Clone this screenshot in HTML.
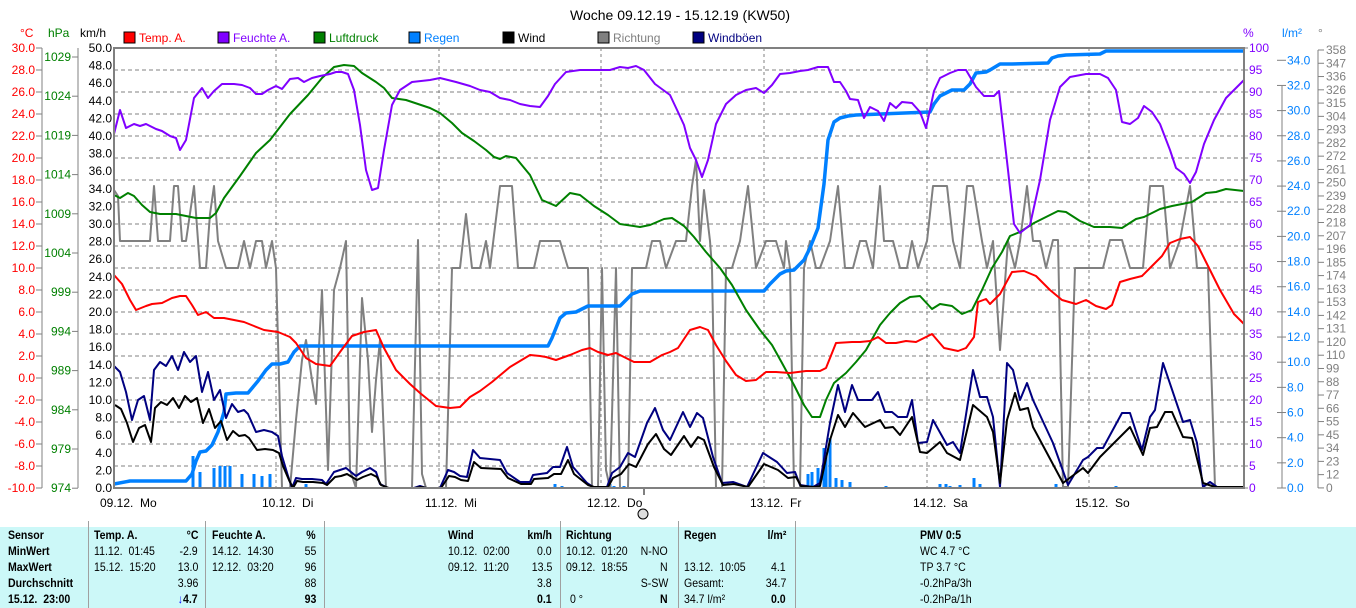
<!DOCTYPE html>
<html><head><meta charset="utf-8">
<style>
body{margin:0;width:1356px;height:608px;overflow:hidden;background:#fff;font-family:"Liberation Sans",sans-serif;}
svg text{font-family:"Liberation Sans",sans-serif;font-size:12px;}
#tbl{position:absolute;left:0;top:527px;width:1356px;height:81px;background:#ccf8f8;}
.t{position:absolute;font-size:12px;font-family:"Liberation Sans",sans-serif;white-space:nowrap;transform:scaleX(0.88);transform-origin:left;}
.r{transform-origin:right;}
.b{font-weight:bold;}
.sep{position:absolute;top:521px;width:1px;height:87px;background:#a0a0a0;}
</style></head><body>
<svg id="s" width="1356" height="608" style="position:absolute;left:0;top:0"></svg>
<div id="tbl"></div>
<div class="sep" style="left:88px"></div><div class="sep" style="left:205px"></div><div class="sep" style="left:324px"></div><div class="sep" style="left:560px"></div><div class="sep" style="left:678px"></div><div class="sep" style="left:795px"></div>
<div id="cells"></div>
<script>
const S=document.getElementById('s');let h='';
const L=114,R=1244,T=48,B=488;
h+=`<text x="680" y="20" text-anchor="middle" style="font-size:14px">Woche 09.12.19 - 15.12.19 (KW50)</text>`;
for(let y=T+22;y<B;y+=22)h+=`<line x1="${L}" y1="${y}" x2="${R}" y2="${y}" stroke="#808080" stroke-dasharray="4,3"/>`;
[276,439,601,764,927,1089].forEach(x=>h+=`<line x1="${x}" y1="${T}" x2="${x}" y2="${B}" stroke="#808080" stroke-dasharray="3,3"/>`);
h+=`<text x="20" y="37" fill="#f00">°C</text><text x="48" y="37" fill="#008000">hPa</text><text x="80" y="37">km/h</text>`;
h+=`<text x="1243" y="37" fill="#8000ff">%</text><text x="1282" y="37" fill="#0080ff">l/m²</text><text x="1318" y="37" fill="#808080">°</text>`;
const lg=[[124,'#f00','Temp. A.'],[218,'#8000ff','Feuchte A.'],[314,'#008000','Luftdruck'],[409,'#0080ff','Regen'],[503,'#000','Wind'],[598,'#808080','Richtung'],[693,'#000080','Windböen']];
lg.forEach(a=>h+=`<rect x="${a[0]}" y="32" width="11" height="11" fill="${a[1]}" stroke="#000"/><text x="${a[0]+15}" y="42" fill="${a[1]}">${a[2]}</text>`);
h+=`<line x1="42" y1="${T}" x2="42" y2="${B}" stroke="#808080"/><line x1="78" y1="${T}" x2="78" y2="${B}" stroke="#808080"/>`;
for(let i=0;i<=20;i++){let y=T+i*22,v=(30-2*i).toFixed(1);h+=`<line x1="36" y1="${y}" x2="42" y2="${y}" stroke="#808080"/><text x="35" y="${y+4}" text-anchor="end" fill="#f00">${v}</text>`;}
for(let i=0;i<=11;i++){let y=57+i*39.2,v=1029-5*i;h+=`<line x1="72" y1="${y}" x2="78" y2="${y}" stroke="#808080"/><text x="71" y="${y+4}" text-anchor="end" fill="#008000">${v}</text>`;}
for(let i=0;i<=25;i++){let y=T+i*17.6,v=(50-2*i).toFixed(1);h+=`<text x="112" y="${y+4}" text-anchor="end">${v}</text>`;}
for(let i=0;i<=20;i++){let y=T+i*22;h+=`<line x1="${R}" y1="${y}" x2="1248" y2="${y}" stroke="#808080"/><text x="1249" y="${y+4}" fill="#8000ff">${100-5*i}</text>`;}
h+=`<line x1="1282" y1="${T+38}" x2="1282" y2="${B}" stroke="#808080"/>`;
for(let i=0;i<=17;i++){let y=B-i*2*12.58;h+=`<line x1="1277" y1="${y}" x2="1286" y2="${y}" stroke="#808080"/><text x="1287" y="${y+4}" fill="#0080ff">${(2*i).toFixed(1)}</text>`;}
h+=`<line x1="1318" y1="50" x2="1318" y2="${B}" stroke="#808080"/>`;
const dl=[358,347,336,326,315,304,293,282,272,261,250,239,228,218,207,196,185,174,163,153,142,131,120,110,99,88,77,66,55,45,34,23,12,0];
dl.forEach((v,i)=>{let y=50+i*13.27;h+=`<line x1="1318" y1="${y}" x2="1324" y2="${y}" stroke="#808080"/><text x="1326" y="${y+4}" fill="#808080">${v}</text>`;});
[['09.12.  Mo',100],['10.12.  Di',262],['11.12.  Mi',425],['12.12.  Do',587],['13.12.  Fr',750],['14.12.  Sa',913],['15.12.  So',1075]].forEach(a=>h+=`<text x="${a[1]}" y="507" xml:space="preserve">${a[0]}</text>`);
h+=`<line x1="644" y1="488" x2="644" y2="495" stroke="#000"/><circle cx="643" cy="514" r="5" fill="#ddd" stroke="#000"/>`;
const bars=[[193,456],[200,472],[214,468],[220,466],[225,466],[230,466],[242,474],[254,474],[262,476],[270,474],[306,484],[555,484],[562,486],[610,484],[614,486],[624,486],[808,474],[812,472],[818,468],[824,448],[826,452],[830,438],[836,478],[842,480],[850,482],[886,486],[940,484],[946,484],[950,486],[960,485],[974,478],[980,484],[1056,484],[1116,486]];
bars.forEach(b=>h+=`<rect x="${b[0]-1.5}" y="${b[1]}" width="3" height="${B-b[1]}" fill="#0080ff"/>`);
function pl(pts,c,w){return `<polyline fill="none" stroke="${c}" stroke-width="${w}" stroke-linejoin="round" points="${pts.map(p=>p.join(',')).join(' ')}"/>`;}
const dir=[[114,190],[118,196],[120,241],[150,241],[154,186],[158,241],[170,241],[174,186],[178,186],[182,241],[186,241],[194,186],[200,268],[206,268],[210,214],[214,186],[218,241],[226,268],[238,268],[244,241],[250,268],[256,241],[262,241],[266,268],[272,241],[276,268],[282,488],[290,488],[296,420],[302,360],[306,340],[312,380],[316,404],[322,290],[328,470],[334,290],[340,268],[346,241],[350,470],[356,488],[362,298],[368,360],[372,432],[376,380],[380,340],[386,488],[412,488],[418,240],[422,474],[426,488],[446,488],[452,268],[460,268],[466,214],[472,268],[480,268],[486,241],[490,268],[500,186],[512,186],[518,268],[534,268],[540,241],[560,241],[568,268],[588,268],[592,488],[598,488],[602,268],[606,470],[610,488],[616,268],[620,488],[628,488],[632,268],[646,268],[652,241],[660,241],[666,268],[676,241],[686,241],[692,186],[696,160],[700,241],[704,190],[710,241],[712,268],[716,488],[722,488],[726,268],[732,268],[740,241],[748,186],[756,268],[766,241],[776,241],[784,268],[786,241],[790,268],[794,488],[800,488],[804,268],[810,241],[816,268],[820,268],[830,241],[838,186],[845,268],[853,268],[860,241],[866,241],[873,268],[880,186],[884,241],[893,241],[900,268],[907,268],[912,241],[918,268],[927,241],[933,186],[947,186],[953,241],[960,268],[967,186],[973,186],[982,241],[987,268],[993,241],[1000,350],[1008,241],[1015,268],[1020,241],[1027,186],[1033,241],[1040,241],[1046,268],[1053,240],[1058,240],[1063,487],[1068,487],[1075,268],[1103,268],[1110,240],[1122,240],[1130,268],[1143,268],[1150,186],[1163,186],[1170,268],[1180,240],[1190,186],[1197,268],[1208,268],[1215,487],[1244,487]];
h+=pl(dir,'#808080',2);
const rain=[[114,484],[130,481],[186,481],[192,474],[196,461],[200,452],[206,451],[212,445],[218,432],[224,412],[226,394],[236,393],[248,393],[258,381],[266,370],[272,364],[280,364],[288,362],[294,352],[300,346],[548,346],[552,338],[560,318],[566,313],[576,312],[588,306],[620,306],[624,302],[632,294],[640,291],[764,291],[770,284],[780,274],[786,271],[794,270],[804,260],[810,248],[818,228],[824,184],[828,140],[834,122],[840,118],[848,116],[856,115],[930,112],[934,104],[940,96],[952,90],[964,90],[970,84],[976,73],[986,72],[990,70],[1000,64],[1012,64],[1048,63],[1052,58],[1058,56],[1066,55],[1100,54],[1106,51],[1244,51]];
h+=pl(rain,'#0080ff',3.5);
const pres=[[114,195],[120,198],[128,193],[134,196],[142,205],[150,212],[160,214],[176,214],[186,216],[196,218],[210,218],[216,213],[224,198],[240,176],[256,153],[270,140],[290,114],[308,95],[322,78],[334,67],[344,65],[354,66],[362,73],[376,82],[384,88],[392,98],[406,100],[418,104],[430,108],[440,113],[452,123],[462,133],[474,141],[486,150],[494,157],[500,159],[506,156],[516,158],[530,175],[542,200],[556,206],[570,193],[580,195],[594,206],[608,215],[620,224],[640,227],[650,225],[664,219],[672,218],[684,226],[694,237],[706,252],[720,268],[732,285],[746,310],[760,330],[772,345],[782,363],[794,385],[804,405],[812,417],[820,417],[826,400],[834,383],[846,373],[856,362],[866,350],[880,325],[890,313],[900,303],[910,297],[920,296],[932,309],[940,304],[952,306],[962,314],[972,310],[982,290],[992,268],[1002,252],[1010,236],[1020,232],[1034,223],[1046,217],[1058,211],[1066,212],[1080,221],[1094,227],[1110,227],[1122,228],[1136,219],[1144,217],[1160,209],[1172,206],[1182,204],[1192,202],[1206,193],[1216,192],[1226,189],[1244,191]];
h+=pl(pres,'#008000',2);
const temp=[[114,275],[122,284],[130,300],[136,310],[146,306],[152,304],[162,303],[172,298],[180,296],[186,296],[192,305],[198,315],[206,312],[214,318],[224,318],[234,320],[244,322],[254,326],[264,330],[278,332],[290,337],[296,343],[306,358],[316,364],[330,366],[340,352],[352,336],[364,332],[376,330],[384,348],[396,370],[410,384],[420,393],[436,406],[450,408],[460,407],[470,397],[480,391],[492,382],[510,367],[530,355],[540,356],[546,357],[556,360],[570,355],[582,350],[590,348],[598,352],[608,355],[616,353],[626,358],[634,362],[650,362],[662,355],[670,352],[678,348],[690,330],[700,327],[708,330],[716,345],[726,361],[736,375],[746,381],[756,380],[766,372],[776,372],[790,373],[806,371],[820,371],[826,368],[836,343],[852,342],[860,342],[870,341],[878,337],[886,343],[896,343],[906,341],[916,342],[924,338],[932,334],[944,348],[958,351],[966,348],[974,337],[978,302],[986,299],[990,304],[1000,294],[1012,272],[1024,271],[1036,276],[1050,290],[1062,300],[1076,304],[1086,300],[1096,306],[1106,309],[1112,305],[1120,282],[1130,279],[1142,276],[1150,268],[1162,256],[1170,243],[1180,239],[1190,237],[1198,246],[1206,262],[1220,290],[1234,314],[1244,324]];
h+=pl(temp,'#f00',2);
const hum=[[114,134],[120,110],[126,128],[134,124],[140,126],[146,124],[156,129],[162,131],[170,136],[176,138],[180,150],[186,140],[194,98],[202,88],[208,98],[214,91],[222,84],[234,84],[242,85],[250,88],[256,94],[262,94],[268,90],[276,86],[282,89],[290,79],[298,78],[304,82],[312,78],[320,76],[330,74],[336,72],[342,72],[348,74],[354,90],[360,125],[366,170],[372,190],[378,188],[384,150],[392,105],[400,90],[412,82],[430,80],[440,78],[456,82],[470,86],[480,90],[490,92],[500,98],[510,100],[520,104],[530,106],[540,107],[548,96],[555,84],[566,72],[580,70],[610,70],[620,67],[628,68],[636,66],[644,70],[655,84],[670,95],[678,112],[684,125],[690,148],[696,160],[702,177],[708,160],[716,124],[726,104],[736,95],[746,90],[756,88],[764,93],[772,85],[780,74],[790,73],[800,71],[808,70],[818,67],[828,67],[834,82],[840,82],[846,91],[850,99],[858,100],[864,118],[870,107],[878,111],[884,121],[890,103],[896,108],[902,102],[912,103],[920,112],[926,128],[934,91],[940,78],[950,73],[958,70],[966,70],[976,87],[984,96],[994,96],[999,91],[1008,170],[1014,224],[1020,233],[1030,225],[1040,180],[1050,120],[1060,87],[1070,77],[1086,74],[1100,74],[1108,78],[1116,90],[1122,122],[1130,124],[1138,118],[1144,106],[1152,112],[1160,124],[1170,150],[1176,168],[1184,174],[1190,183],[1196,172],[1204,144],[1214,120],[1226,98],[1244,80]];
h+=pl(hum,'#8000ff',2);
const gustL=[[114,366],[120,372],[126,392],[132,420],[138,400],[144,396],[150,420],[154,370],[160,362],[166,366],[172,356],[178,370],[184,352],[190,362],[196,356],[202,392],[208,372],[214,400],[220,390],[226,418],[232,404],[238,412],[244,410],[248,414],[256,432],[264,430],[272,432],[278,436],[282,456],[288,476],[292,488],[296,478],[302,479],[312,479],[322,480],[326,484],[334,472],[340,470],[346,468],[356,476],[362,472],[370,468],[376,472],[380,484],[388,488],[414,488],[420,486],[426,488],[440,488],[448,470],[454,472],[460,476],[467,477],[473,450],[480,458],[500,460],[507,473],[520,482],[530,482],[533,475],[547,473],[553,467],[560,467],[567,447],[573,467],[587,483],[593,487],[607,487],[612,473],[620,467],[628,453],[635,457],[647,423],[655,408],[663,430],[670,440],[683,412],[690,427],[697,413],[703,418],[713,457],[722,483],[733,482],[747,487],[763,453],[777,462],[787,473],[795,472],[800,485],[813,487]];
const gustR=[[820,483],[830,423],[838,385],[845,412],[852,385],[858,400],[872,400],[878,392],[885,412],[892,412],[898,417],[907,417],[912,400],[918,443],[927,442],[933,420],[947,445],[953,442],[960,453],[973,370],[980,397],[987,397],[993,417],[1000,487],[1007,363],[1013,370],[1020,400],[1027,383],[1033,400],[1053,443],[1068,485],[1083,460],[1088,457],[1097,448],[1103,448],[1122,413],[1130,413],[1142,450],[1150,417],[1155,410],[1163,363],[1183,422],[1190,420],[1197,443],[1203,487],[1210,482],[1217,487],[1243,487]];
h+=pl(gustL.concat(gustR),'#000080',2);
const windL=gustL.map(p=>[p[0]+1,Math.round(B-(B-p[1])*0.68)]);
const windR=[[820,486],[830,440],[838,415],[845,427],[853,413],[865,427],[880,420],[885,428],[893,427],[900,435],[912,417],[920,452],[927,453],[940,442],[947,453],[960,460],[973,405],[987,417],[993,432],[1000,483],[1007,420],[1015,393],[1020,410],[1028,408],[1033,427],[1063,483],[1083,468],[1088,473],[1100,457],[1130,427],[1143,455],[1150,428],[1157,427],[1165,412],[1172,412],[1183,437],[1192,438],[1203,483],[1215,487],[1243,487]];
h+=pl(windL.concat(windR),'#000',2);
h+=`<rect x="${L}" y="${T}" width="${R-L}" height="${B-T}" fill="none" stroke="#808080" stroke-width="2"/>`;
S.innerHTML=h;
const cells=[
[8,540,'Sensor',1],[94,540,'Temp. A.',1],[198,540,'°C',1,1],[212,540,'Feuchte A.',1],[316,540,'%',1,1],[448,540,'Wind',1],[552,540,'km/h',1,1],[566,540,'Richtung',1],[684,540,'Regen',1],[786,540,'l/m²',1,1],[920,540,'PMV 0:5',1],
[8,556,'MinWert',1],[94,556,'11.12.  01:45'],[198,556,'-2.9',0,1],[212,556,'14.12.  14:30'],[316,556,'55',0,1],[448,556,'10.12.  02:00'],[552,556,'0.0',0,1],[566,556,'10.12.  01:20'],[668,556,'N-NO',0,1],[920,556,'WC 4.7 °C'],
[8,572,'MaxWert',1],[94,572,'15.12.  15:20'],[198,572,'13.0',0,1],[212,572,'12.12.  03:20'],[316,572,'96',0,1],[448,572,'09.12.  11:20'],[552,572,'13.5',0,1],[566,572,'09.12.  18:55'],[668,572,'N',0,1],[684,572,'13.12.  10:05'],[786,572,'4.1',0,1],[920,572,'TP 3.7 °C'],
[8,588,'Durchschnitt',1],[198,588,'3.96',0,1],[316,588,'88',0,1],[552,588,'3.8',0,1],[668,588,'S-SW',0,1],[684,588,'Gesamt:'],[786,588,'34.7',0,1],[920,588,'-0.2hPa/3h'],
[8,604,'15.12.  23:00',1],[198,604,'<span style="color:#00f">↓</span>4.7',1,1],[316,604,'93',1,1],[552,604,'0.1',1,1],[570,604,'0 °'],[668,604,'N',1,1],[684,604,'34.7 l/m²'],[786,604,'0.0',1,1],[920,604,'-0.2hPa/1h']];
let c='';
cells.forEach(a=>{const st=a[4]?`right:${1356-a[0]}px;`:`left:${a[0]}px;`;c+=`<div class="t${a[3]?' b':''}${a[4]?' r':''}" style="${st}top:${a[1]-12}px">${a[2].replace(/  /g,'&nbsp;&nbsp;')}</div>`;});
document.getElementById('cells').innerHTML=c;
</script>
</body></html>
